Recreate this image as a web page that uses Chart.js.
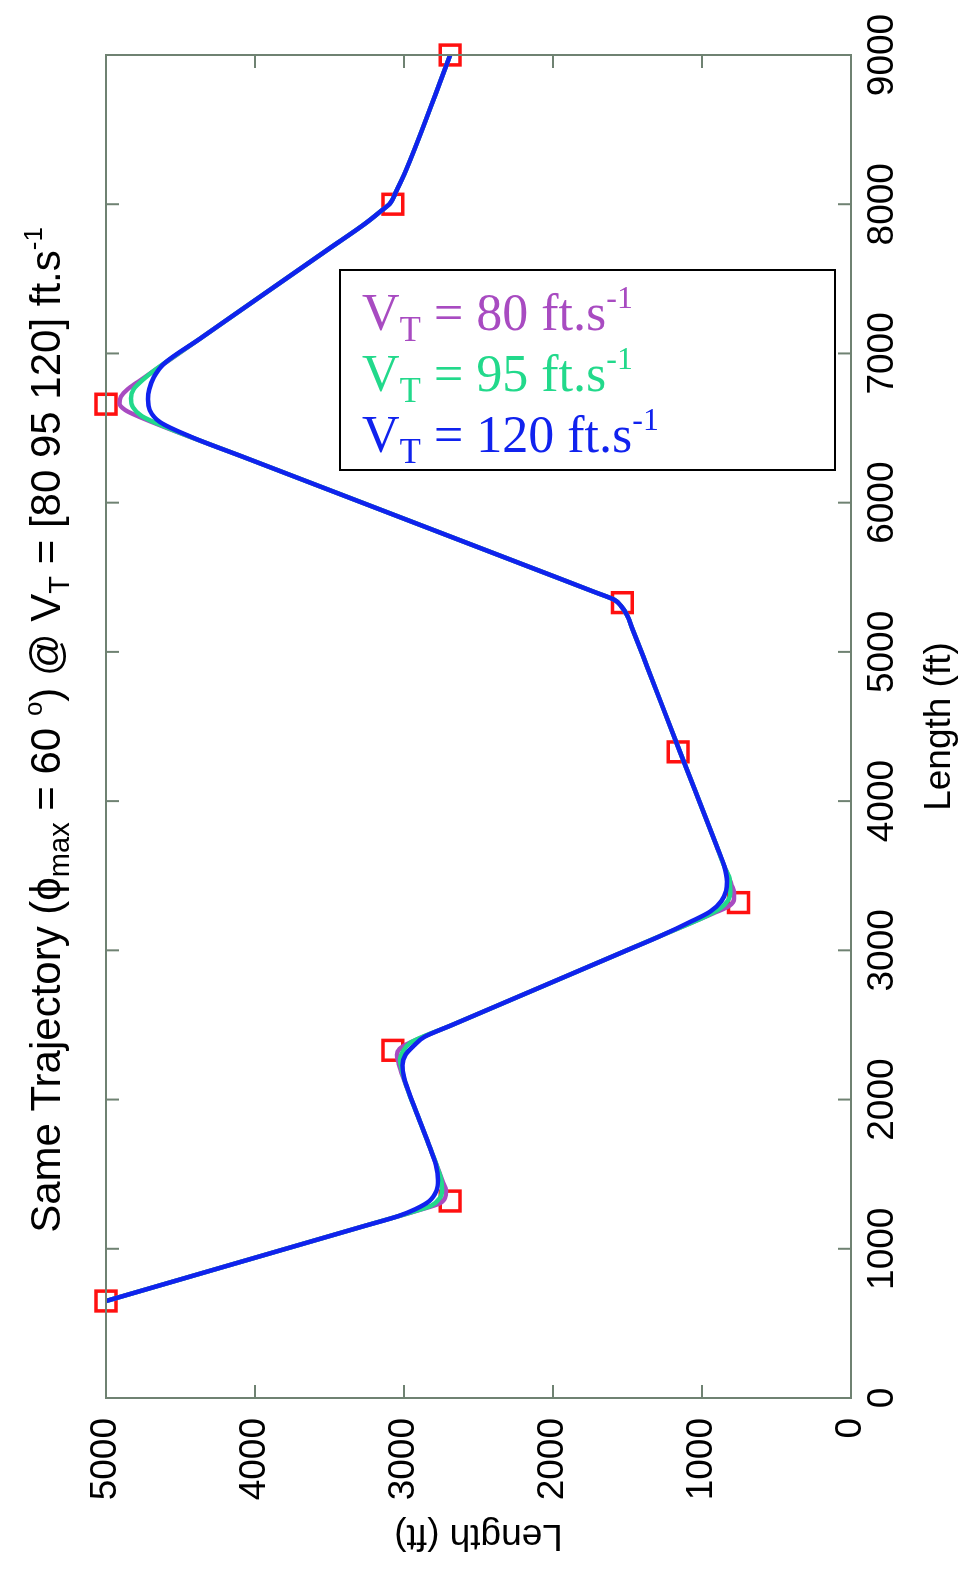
<!DOCTYPE html>
<html>
<head>
<meta charset="utf-8">
<script src="https://cdn.jsdelivr.net/npm/chart.js@4.4.1/dist/chart.umd.min.js"></script>
<style>
  html, body { margin: 0; padding: 0; background: #fff; overflow: hidden; }
  #wrap {
    position: absolute; left: 0; top: 0;
    width: 1572px; height: 967px;
    transform-origin: 0 0;
    transform: translateY(1572px) rotate(-90deg);
  }
</style>
</head>
<body>
<div id="wrap"><canvas id="chart" width="1572" height="967"></canvas></div>
<script>
// waypoints (red squares)
var wpX = [650, 1320, 2330, 3320, 4330, 5330, 6660, 8000, 9000];
var wpY = [5000, 2690, 3075, 755, 1160, 1535, 5000, 3075, 2690];

// V_T = 120 ft/s
var blueX = [650, 1150, 1220, 1265, 1320, 1390, 1460, 1560, 1680, 1850, 2050, 2150, 2230, 2300, 2360, 2420, 2500, 3000, 3100, 3190, 3260, 3330, 3400, 3460, 3560, 3700, 4336, 4900, 5150, 5250, 5310, 5350, 5400, 5550, 6300, 6440, 6540, 6620, 6694, 6760, 6840, 6930, 7100, 7700, 7870, 7950, 8010, 8080, 8200, 9000];
var blueY = [5000, 3276, 3035, 2925, 2830, 2782, 2772, 2785, 2827, 2892, 2968, 3000, 3010, 2990, 2935, 2864, 2677, 1505, 1271, 1080, 945, 870, 838, 832, 849, 902, 1150, 1368, 1465, 1505, 1545, 1590, 1718, 2108, 4062, 4427, 4638, 4706, 4718, 4710, 4680, 4612, 4368, 3506, 3261, 3160, 3090, 3055, 2998, 2690];

// V_T = 95 ft/s
var greenX = [650, 1150, 1240, 1290, 1340, 1400, 1480, 1560, 1680, 1850, 2100, 2200, 2270, 2325, 2380, 2500, 3000, 3100, 3215, 3280, 3335, 3400, 3470, 3560, 3700, 4336, 4900, 5150, 5250, 5310, 5350, 5400, 5550, 6300, 6500, 6580, 6640, 6700, 6760, 6830, 6880, 7100, 7700, 7870, 7950, 8010, 8080, 8200, 9000];
var greenY = [5000, 3276, 2966, 2815, 2760, 2745, 2755, 2781, 2827, 2892, 2987, 3015, 3027, 3005, 2958, 2677, 1505, 1271, 1002, 880, 825, 810, 813, 849, 902, 1150, 1368, 1465, 1505, 1545, 1590, 1718, 2108, 4062, 4583, 4760, 4820, 4832, 4815, 4745, 4684, 4368, 3506, 3261, 3160, 3090, 3055, 2998, 2690];

// V_T = 80 ft/s
var purpleX = [650, 1150, 1260, 1305, 1340, 1390, 1450, 1520, 1680, 1850, 2150, 2240, 2300, 2340, 2365, 2500, 3000, 3100, 3250, 3300, 3345, 3390, 3440, 3560, 3700, 4336, 4900, 5150, 5250, 5310, 5350, 5400, 5550, 6300, 6560, 6620, 6665, 6710, 6760, 6810, 7100, 7700, 7870, 7950, 8010, 8080, 8200, 9000];
var purpleY = [5000, 3276, 2897, 2760, 2725, 2718, 2740, 2766, 2827, 2892, 3006, 3035, 3047, 3030, 2993, 2677, 1505, 1271, 920, 815, 785, 785, 802, 849, 902, 1150, 1368, 1465, 1505, 1545, 1590, 1718, 2108, 4062, 4739, 4870, 4910, 4900, 4855, 4784, 4368, 3506, 3261, 3160, 3090, 3055, 2998, 2690];

var xTicks = [0, 1000, 2000, 3000, 4000, 5000, 6000, 7000, 8000, 9000];
var yTicks = [0, 1000, 2000, 3000, 4000, 5000];

var legendRows = [
  {v: '80', color: '#a84bc1'},
  {v: '95', color: '#22d98b'},
  {v: '120', color: '#1022ee'}
];

function pts(xs, ys) {
  var out = [];
  for (var i = 0; i < xs.length; i++) out.push({x: xs[i], y: ys[i]});
  return out;
}

function drawRich(ctx, parts, x, y, align, base, family) {
  var sizes = {n: base, sub: Math.round(base * 0.68), sup: Math.round(base * 0.62)};
  var shift = {n: 0, sub: base * 0.22, sup: -base * 0.42};
  var total = 0;
  parts.forEach(function(p) {
    ctx.font = sizes[p.s] + 'px ' + family;
    p.w = ctx.measureText(p.t).width;
    total += p.w;
  });
  var cx = align === 'center' ? x - total / 2 : x;
  ctx.textAlign = 'left';
  ctx.textBaseline = 'alphabetic';
  parts.forEach(function(p) {
    ctx.font = sizes[p.s] + 'px ' + family;
    ctx.fillText(p.t, cx, y + shift[p.s]);
    cx += p.w;
  });
}

var framePlugin = {
  id: 'frame',
  afterDatasetsDraw: function(chart) {
    var ctx = chart.ctx, a = chart.chartArea;
    var xs = chart.scales.x, ys = chart.scales.y;
    ctx.save();
    ctx.strokeStyle = '#6f8272';
    ctx.lineWidth = 2;
    ctx.strokeRect(a.left, a.top, a.right - a.left, a.bottom - a.top);
    var tl = 13;
    ctx.beginPath();
    xTicks.forEach(function(v) {
      var px = xs.getPixelForValue(v);
      ctx.moveTo(px, a.bottom); ctx.lineTo(px, a.bottom - tl);
      ctx.moveTo(px, a.top); ctx.lineTo(px, a.top + tl);
    });
    yTicks.forEach(function(v) {
      var py = ys.getPixelForValue(v);
      ctx.moveTo(a.left, py); ctx.lineTo(a.left + tl, py);
      ctx.moveTo(a.right, py); ctx.lineTo(a.right - tl, py);
    });
    ctx.stroke();
    ctx.restore();
  },
  afterDraw: function(chart) {
    var ctx = chart.ctx;
    ctx.save();
    ctx.fillStyle = '#000';
    drawRich(ctx, [
      {t: 'Same Trajectory (\u03d5', s: 'n'},
      {t: 'max', s: 'sub'},
      {t: ' = 60 ', s: 'n'},
      {t: 'o', s: 'sup'},
      {t: ') @ V', s: 'n'},
      {t: 'T', s: 'sub'},
      {t: ' = [80 95 120] ft.s', s: 'n'},
      {t: '-1', s: 'sup'}
    ], 842, 60, 'center', 42, '"Liberation Sans", Arial, sans-serif');
    ctx.restore();

    // legend box, drawn upright in the rotated page
    ctx.save();
    ctx.transform(0, 1, -1, 0, 1572, 0);
    ctx.fillStyle = '#fff';
    ctx.fillRect(340, 270, 495, 200);
    ctx.strokeStyle = '#000';
    ctx.lineWidth = 2;
    ctx.strokeRect(340, 270, 495, 200);
    legendRows.forEach(function(r, i) {
      ctx.fillStyle = r.color;
      drawRich(ctx, [
        {t: 'V', s: 'n'},
        {t: 'T', s: 'sub'},
        {t: ' = ' + r.v + ' ft.s', s: 'n'},
        {t: '-1', s: 'sup'}
      ], 362, 330 + i * 61, 'left', 52, '"Liberation Serif", "Times New Roman", serif');
    });
    ctx.restore();
  }
};

var tickFont = {family: '"Liberation Sans", Arial, sans-serif', size: 37};
function plainTick(v) { return String(v); }

var lineStyle = {showLine: true, borderWidth: 4.5, pointRadius: 0, cubicInterpolationMode: 'monotone'};

new Chart(document.getElementById('chart'), {
  type: 'scatter',
  data: {
    datasets: [
      Object.assign({label: 'VT = 120', data: pts(blueX, blueY), borderColor: '#1022ee', order: 1}, lineStyle),
      Object.assign({label: 'VT = 95', data: pts(greenX, greenY), borderColor: '#22d98b', order: 2}, lineStyle),
      Object.assign({label: 'VT = 80', data: pts(purpleX, purpleY), borderColor: '#a84bc1', order: 3}, lineStyle),
      {label: 'waypoints', data: pts(wpX, wpY), showLine: false, pointStyle: 'rect', pointRadius: 14, borderColor: '#ff1010', borderWidth: 3.5, backgroundColor: 'rgba(0,0,0,0)', clip: false, order: 4}
    ]
  },
  options: {
    responsive: false,
    animation: false,
    layout: {padding: {top: 106, right: 55, left: 0, bottom: 0}},
    plugins: {legend: {display: false}, tooltip: {enabled: false}, title: {display: false}},
    scales: {
      x: {
        type: 'linear', min: 0, max: 9000,
        afterBuildTicks: function(s) { s.ticks = xTicks.map(function(v) { return {value: v}; }); },
        afterFit: function(s) { s.height = 116; },
        grid: {display: false, drawTicks: false},
        border: {display: false},
        ticks: {font: tickFont, color: '#000', padding: 10, maxRotation: 0, autoSkip: false, callback: plainTick},
        title: {display: true, text: 'Length (ft)', font: tickFont, color: '#000', padding: {top: 0, bottom: 5}}
      },
      y: {
        type: 'linear', min: 0, max: 5000,
        afterBuildTicks: function(s) { s.ticks = yTicks.map(function(v) { return {value: v}; }); },
        afterFit: function(s) { s.width = 174; },
        grid: {display: false, drawTicks: false},
        border: {display: false},
        ticks: {font: tickFont, color: '#000', padding: 20, autoSkip: false, callback: plainTick},
        title: {display: true, text: 'Length (ft)', font: tickFont, color: '#000', padding: {top: 15, bottom: 0}}
      }
    }
  },
  plugins: [framePlugin]
});
</script>
</body>
</html>
